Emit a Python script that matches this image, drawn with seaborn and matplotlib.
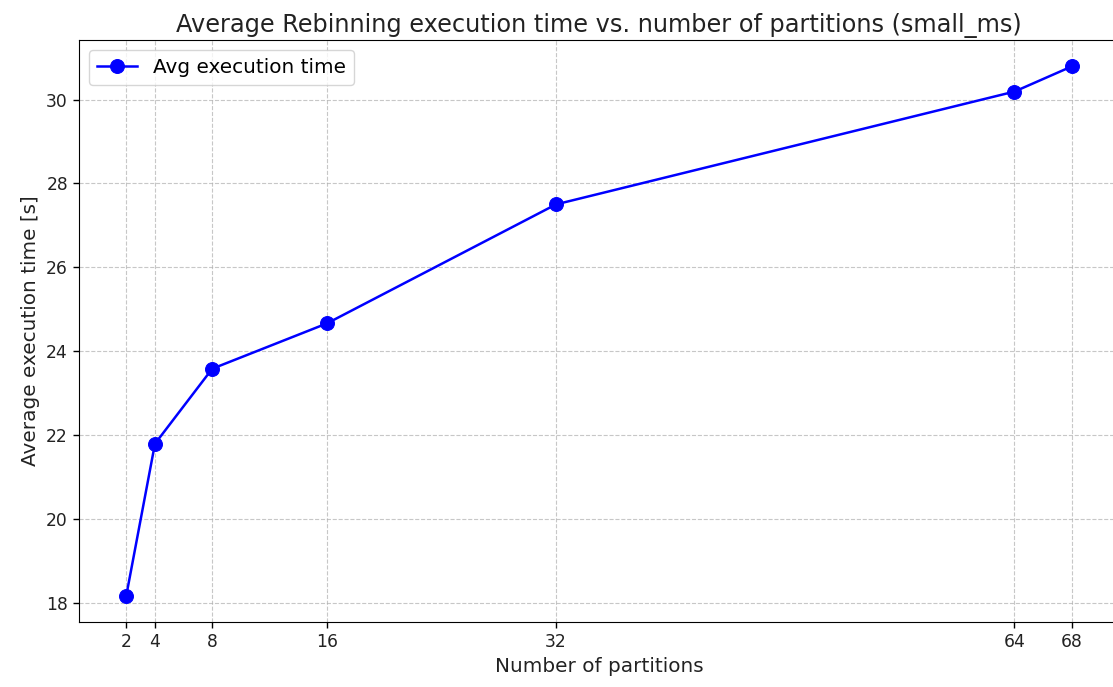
import matplotlib
matplotlib.use("Agg")
import matplotlib.pyplot as plt
import seaborn as sns
import pandas as pd

partitions = [2, 4, 8, 16, 32, 64, 68]
avg_time = [18.17, 21.79, 23.58, 24.66, 27.50, 30.19, 30.79]
y_ticks = [18, 20, 22, 24, 26, 28, 30]

df = pd.DataFrame({"partitions": partitions, "time": avg_time})

plt.rcParams['font.family'] = ['DejaVu Sans']
fig = plt.figure(figsize=(11.13, 6.87), dpi=100)
ax = fig.add_axes([0.071, 0.0946, 0.9344, 0.8472])

sns.lineplot(data=df, x="partitions", y="time", marker="o", color="blue",
             markersize=10, linewidth=1.8, markeredgecolor="blue",
             label="Avg execution time", ax=ax)

ax.set_xticks(partitions)
ax.set_xticklabels([str(p) for p in partitions])
ax.set_yticks(y_ticks)
ax.tick_params(labelsize=12.3, length=4.5, width=1, labelcolor="#222222")
ax.set_xlabel("Number of partitions", fontsize=14.4, color="#222222")
ax.set_ylabel("Average execution time [s]", fontsize=14.4, color="#222222")
ax.set_title("Average Rebinning execution time vs. number of partitions (small_ms)",
             fontsize=17.3, color="#222222")
ax.grid(True, linestyle="--", alpha=0.7, color="#b0b0b0")
ax.spines['right'].set_visible(False)
ax.legend(loc="upper left", fontsize=14.4)

fig.savefig("out.png", dpi=100)
